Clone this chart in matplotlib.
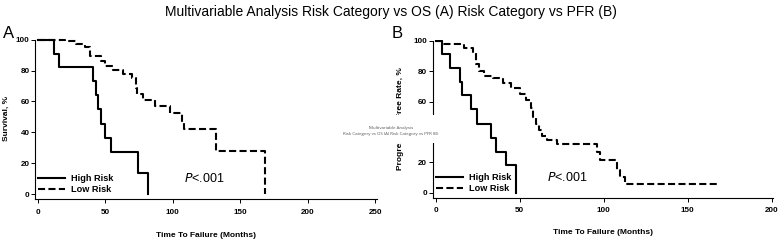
import matplotlib
matplotlib.use("Agg")
import matplotlib.pyplot as plt
from matplotlib.patches import Rectangle

plt.rcParams['font.family'] = ['Liberation Sans', 'DejaVu Sans']

# Kaplan-Meier steps: event times (months) and % after each step
os_high_t = [12, 16, 41, 43, 45, 47, 50, 54, 74, 82]
os_high_s = [91, 82, 73, 64, 55, 45.5, 36, 27, 13.6, 0]
os_low_t = [20, 28, 35, 39, 47, 50, 56, 63, 70, 72.5, 73.5, 78, 87, 98, 106.5, 108, 132, 168]
os_low_s = [99, 97, 95, 89.5, 86, 83, 80.5, 78, 75.5, 69, 64.5, 61, 57, 52.5, 47, 42, 28, 0]

pfr_high_t = [4, 8.5, 14.5, 15.5, 21, 24.5, 33, 36, 42, 48]
pfr_high_s = [91, 82, 73, 64, 55, 45.5, 36, 27, 18, 0]
pfr_low_t = [4, 17, 22, 24, 26, 29, 34, 40, 45, 50, 54, 56.5, 58, 60, 61.5, 63, 66, 72,
             96, 98, 108, 110, 112.5]
pfr_low_s = [98, 95, 92, 85, 80, 77, 75.5, 72.5, 69, 65, 61, 56, 50, 45, 41, 37, 34.5, 32,
             27, 21.5, 15, 10, 5.5]
pfr_low_end = 168

title = "Multivariable Analysis Risk Category vs OS (A) Risk Category vs PFR (B)"


def km_xy(times, surv, end=None):
    xs = [0] + list(times)
    ys = [100] + list(surv)
    if end is not None:
        xs.append(end)
        ys.append(ys[-1])
    return xs, ys


def style_axes(ax, xlim, ylim, xticks, ylabel, ylab_x, xlab_y):
    ax.set_xlim(*xlim)
    ax.set_ylim(*ylim)
    ax.set_xticks(xticks)
    ax.set_yticks([0, 20, 40, 60, 80, 100])
    for s in ['top', 'right']:
        ax.spines[s].set_visible(False)
    for s in ['left', 'bottom']:
        ax.spines[s].set_linewidth(0.8)
    ax.spines['left'].set_bounds(ylim[0], 100)
    ax.tick_params(axis='y', length=3, width=0.7, pad=1, labelsize=5.8)
    ax.tick_params(axis='x', length=3, width=0.7, pad=4, labelsize=5.8)
    for lab in ax.get_xticklabels() + ax.get_yticklabels():
        lab.set_fontweight('bold')
    ax.set_xlabel("Time To Failure (Months)", fontsize=6, fontweight='bold')
    ax.set_ylabel(ylabel, fontsize=6, fontweight='bold')
    ax.xaxis.set_label_coords(0.5, xlab_y)
    ax.xaxis.label.set_va('center')
    ax.yaxis.set_label_coords(ylab_x, 0.5)
    ax.yaxis.label.set_va('center')


fig = plt.figure(figsize=(7.81, 2.4), dpi=100)
axA = fig.add_axes([0.0448, 0.1708, 0.4375, 0.6696])
axB = fig.add_axes([0.5540, 0.1763, 0.4357, 0.6571])

dash = (0, (3.4, 1.6))

x, y = km_xy(os_high_t, os_high_s)
axA.step(x, y, where='post', color='black', lw=1.5, label='High Risk')
x, y = km_xy(os_low_t, os_low_s)
axA.step(x, y, where='post', color='black', lw=1.5, linestyle=dash, label='Low Risk')
style_axes(axA, (-2, 251), (-3.2, 100.9), [0, 50, 100, 150, 200, 250],
           "Survival, %", -0.085, -0.224)
axA.text(108, 10.4, "$P$<.001", fontsize=9, va='center', ha='left')

x, y = km_xy(pfr_high_t, pfr_high_s)
axB.step(x, y, where='post', color='black', lw=1.5, label='High Risk')
x, y = km_xy(pfr_low_t, pfr_low_s, pfr_low_end)
axB.step(x, y, where='post', color='black', lw=1.5, linestyle=dash, label='Low Risk')
style_axes(axB, (-1.8, 200.8), (-3.3, 100.5), [0, 50, 100, 150, 200],
           "Progression Free Rate, %", -0.096, -0.221)
axB.text(66, 9.9, "$P$<.001", fontsize=9, va='center', ha='left')

for ax, bx in [(axA, 0.008), (axB, 0.009)]:
    leg = ax.legend(loc='lower left', bbox_to_anchor=(bx, 0.03), frameon=False,
                    handlelength=3.0, handletextpad=0.6, labelspacing=0.2,
                    borderpad=0, borderaxespad=0, prop={'size': 6.6, 'weight': 'bold'})

fig.text(0.5, 1 - 12 / 240, title, ha='center', va='center', fontsize=10)
fig.text(3 / 781, 1 - 34 / 240, "A", ha='left', va='center', fontsize=12)
fig.text(392 / 781, 1 - 34 / 240, "B", ha='left', va='center', fontsize=12)

# small overlay caption pasted over the middle of the figure
fig.patches.append(Rectangle((335 / 781, 1 - 143 / 240), 102 / 781, 28 / 240,
                             transform=fig.transFigure, facecolor='white',
                             edgecolor='none', zorder=5))
fig.text(391 / 781, 1 - 128 / 240, "Multivariable Analysis", ha='center', va='center',
         fontsize=3.2, color='#555555', family=['Open Sans', 'DejaVu Sans'], zorder=6)
fig.text(391 / 781, 1 - 134 / 240, "Risk Category vs OS (A) Risk Category vs PFR (B)",
         ha='center', va='center', fontsize=3.2, color='#555555',
         family=['Open Sans', 'DejaVu Sans'], zorder=6)

fig.savefig("out.png", dpi=100)
